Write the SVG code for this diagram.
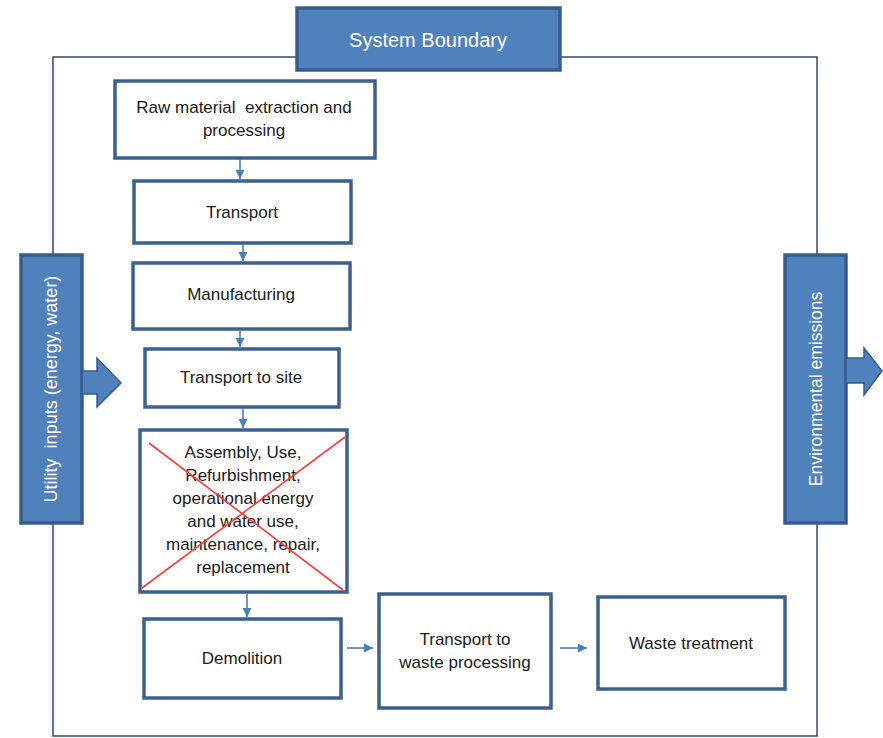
<svg xmlns="http://www.w3.org/2000/svg" width="883" height="738" viewBox="0 0 883 738">
<defs>
<marker id="ah" viewBox="0 0 10 10" refX="10" refY="5" markerWidth="9" markerHeight="9" markerUnits="userSpaceOnUse" orient="auto">
<path d="M0,0 L10,5 L0,10 Z" fill="#4A7EBB"/>
</marker>
<style>
.node{fill:#fff;stroke:#3B6090;stroke-width:3.5}
.blue{fill:#4F81BD;stroke:#385D8A;stroke-width:3.5}
.t{font-family:"Liberation Sans",Arial,sans-serif;font-size:17px;fill:#1a1a1a;text-anchor:middle;white-space:pre}
.w{font-family:"Liberation Sans",Arial,sans-serif;fill:#fff;text-anchor:middle;white-space:pre}
.c{stroke:#4A7EBB;stroke-width:1.6;fill:none;marker-end:url(#ah)}
.x{stroke:#FF3B3B;stroke-width:1.6}
</style>
</defs>
<rect width="883" height="738" fill="#fff"/>
<rect id="boundary-line" x="53" y="57" width="764" height="679" fill="none" stroke="#2E4A70" stroke-width="1.5"/>

<g id="system-boundary">
<rect class="blue" x="297" y="8" width="263" height="62"/>
<text class="w" x="428" y="47" font-size="20">System Boundary</text>
</g>

<g id="utility-inputs">
<rect class="blue" x="21" y="255" width="61" height="268"/>
<path d="M82,371 L97,371 L97,358 L121,383 L97,407 L97,394 L82,394 Z" fill="#4F81BD" stroke="#385D8A" stroke-width="1.5"/>
<text class="w" font-size="18" transform="translate(57,389) rotate(-90)">Utility  inputs (energy, water)</text>
</g>

<g id="environmental-emissions">
<rect class="blue" x="785" y="255" width="61" height="268"/>
<path d="M846,358 L864,358 L864,348 L882,371 L864,395 L864,383 L846,383 Z" fill="#4F81BD" stroke="#385D8A" stroke-width="1.5"/>
<text class="w" font-size="17.5" transform="translate(822,389) rotate(-90)">Environmental emissions</text>
</g>

<g id="raw-material">
<rect class="node" x="115" y="81" width="260" height="77"/>
<text class="t" x="244" y="113">Raw material  extraction and</text>
<text class="t" x="244" y="136">processing</text>
</g>

<g id="transport">
<rect class="node" x="134" y="181" width="217" height="62"/>
<text class="t" x="242" y="218">Transport</text>
</g>

<g id="manufacturing">
<rect class="node" x="133" y="263" width="217" height="66"/>
<text class="t" x="241" y="300">Manufacturing</text>
</g>

<g id="transport-to-site">
<rect class="node" x="145" y="349" width="194" height="58"/>
<text class="t" x="241" y="383">Transport to site</text>
</g>

<g id="assembly-use">
<rect class="node" x="140" y="430" width="207" height="162"/>
<text class="t" x="243" y="458">Assembly, Use,</text>
<text class="t" x="243" y="481">Refurbishment,</text>
<text class="t" x="243" y="504">operational energy</text>
<text class="t" x="243" y="527">and water use,</text>
<text class="t" x="243" y="550">maintenance, repair,</text>
<text class="t" x="243" y="573">replacement</text>
<line class="x" x1="149" y1="443" x2="343" y2="590"/>
<line class="x" x1="345" y1="437" x2="142" y2="588"/>
</g>

<g id="demolition">
<rect class="node" x="144" y="619" width="197" height="79"/>
<text class="t" x="242" y="664">Demolition</text>
</g>

<g id="transport-to-waste">
<rect class="node" x="379" y="594" width="172" height="114"/>
<text class="t" x="465" y="645">Transport to</text>
<text class="t" x="465" y="668">waste processing</text>
</g>

<g id="waste-treatment">
<rect class="node" x="598" y="597" width="187" height="92"/>
<text class="t" x="691" y="649">Waste treatment</text>
</g>

<g id="connectors">
<line class="c" x1="240" y1="159" x2="240" y2="179"/>
<line class="c" x1="243" y1="244" x2="243" y2="261"/>
<line class="c" x1="240" y1="330" x2="240" y2="347"/>
<line class="c" x1="243" y1="408" x2="243" y2="428"/>
<line class="c" x1="247" y1="593" x2="247" y2="617"/>
<line class="c" x1="347" y1="648" x2="373" y2="648"/>
<line class="c" x1="560" y1="648" x2="587" y2="648"/>
</g>
</svg>
